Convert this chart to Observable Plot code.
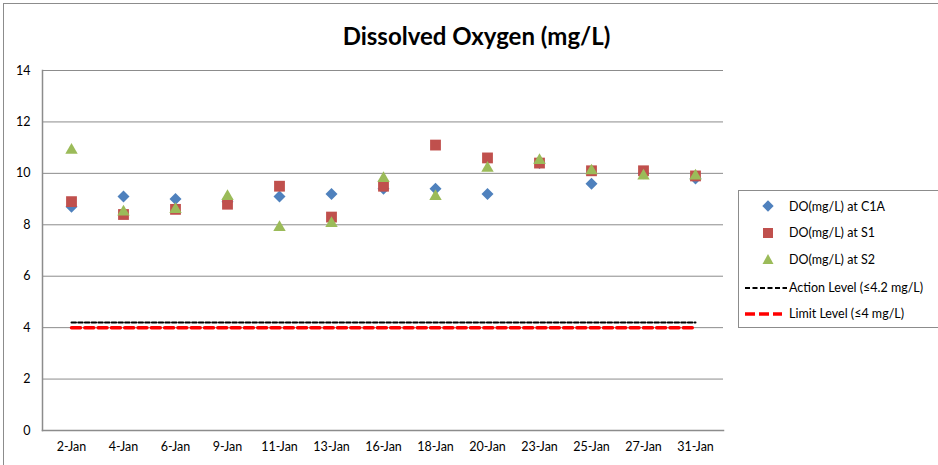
<!DOCTYPE html>
<html><head><meta charset="utf-8">
<script src="https://cdn.jsdelivr.net/npm/d3@7"></script>
<script src="https://cdn.jsdelivr.net/npm/@observablehq/plot@0.6"></script>
<style>
body{margin:0;background:#fff;}
#wrap{position:relative;width:938px;height:465px;overflow:hidden;font-family:Lato, "Open Sans", sans-serif;background:#fff;}
#border{position:absolute;left:3px;top:3px;width:960px;height:480px;border-left:1px solid #8c8c8c;border-top:1px solid #8c8c8c;}
#chart{position:absolute;left:0;top:0;}
#title{position:absolute;left:0;width:953px;top:21px;text-align:center;font-weight:bold;font-size:24px;color:#000;}
#legend{position:absolute;left:738px;top:190px;width:215px;height:138px;border:1px solid #8c8c8c;box-sizing:border-box;background:#fff;}
.item{position:absolute;left:0;height:20px;font-size:12.5px;color:#000;white-space:nowrap;}
.item svg{position:absolute;left:6px;top:0;}
.item span{position:absolute;left:50px;top:2px;}
</style></head>
<body>
<div id="wrap">
  <div id="chart"></div>
  <div id="border"></div>
  <div id="title">Dissolved Oxygen (mg/L)</div>
  <div id="legend"></div>
</div>
<script>
const dates = ["2-Jan","4-Jan","6-Jan","9-Jan","11-Jan","13-Jan","16-Jan","18-Jan","20-Jan","23-Jan","25-Jan","27-Jan","31-Jan"];
const doC1A = [8.7, 9.1, 9.0, 8.9, 9.1, 9.2, 9.4, 9.4, 9.2, 10.4, 9.6, 10.0, 9.8];
const doS1  = [8.9, 8.4, 8.6, 8.8, 9.5, 8.3, 9.5, 11.1, 10.6, 10.4, 10.1, 10.1, 9.9];
const doS2  = [10.9, 8.5, 8.6, 9.1, 7.9, 8.05, 9.8, 9.1, 10.2, 10.5, 10.1, 9.9, 9.9];
const actionLevel = 4.2;
const limitLevel = 4;
const yTicks = [0, 2, 4, 6, 8, 10, 12, 14];
const seriesNames = ["DO(mg/L) at C1A", "DO(mg/L) at S1", "DO(mg/L) at S2", "Action Level (\u22644.2 mg/L)", "Limit Level (\u22644 mg/L)"];

const colors = {c1a: "#4F81BD", s1: "#C0504D", s2: "#9BBB59"};
const rows = (vals) => dates.map((d, i) => ({date: d, value: vals[i]}));

const plot = Plot.plot({
  width: 938,
  height: 465,
  marginLeft: 42,
  marginRight: 215,
  marginTop: 70,
  marginBottom: 35,
  style: {fontFamily: "Lato, sans-serif", fontSize: "12px", background: "transparent", color: "#000"},
  x: {type: "band", domain: dates, padding: 0, label: null},
  y: {domain: [0, 14], label: null},
  marks: [
    Plot.gridY(yTicks, {stroke: "#8c8c8c", strokeOpacity: 1, strokeWidth: 1}),
    Plot.frame({anchor: "left", stroke: "#8c8c8c", strokeWidth: 1.5}),
    Plot.frame({anchor: "bottom", stroke: "#8c8c8c", strokeWidth: 1.5}),
    Plot.axisY(yTicks, {tickSize: 0, tickPadding: 12, fontSize: 12.5, label: null}),
    Plot.axisX({tickSize: 0, tickPadding: 12, fontSize: 12.5, label: null}),
    Plot.lineY(dates.map(d => ({date: d, value: actionLevel})), {x: "date", y: "value", stroke: "#000", strokeWidth: 2, strokeDasharray: "4.5,2.2"}),
    Plot.lineY(dates.map(d => ({date: d, value: limitLevel})), {x: "date", y: "value", stroke: "#FF0000", strokeWidth: 3.5, strokeDasharray: "9,4.3"}),
    Plot.dot(rows(doC1A), {x: "date", y: "value", symbol: "square", rotate: 45, r: 4.8, fill: colors.c1a, stroke: "none"}),
    Plot.dot(rows(doS1), {x: "date", y: "value", symbol: "square", r: 6.1, fill: colors.s1, stroke: "none"}),
    Plot.dot(rows(doS2), {x: "date", y: "value", symbol: "triangle", r: 4.6, fill: colors.s2, stroke: "none"})
  ]
});
document.getElementById("chart").appendChild(plot);

// Legend
const legend = document.getElementById("legend");
const legendTops = [6, 32, 59, 87, 113];
const markerSvgs = [
  `<svg width="40" height="20"><rect x="19" y="5" width="8" height="8" fill="${colors.c1a}" transform="rotate(45 23 9)"/></svg>`,
  `<svg width="40" height="20"><rect x="18" y="5" width="10" height="10" fill="${colors.s1}"/></svg>`,
  `<svg width="40" height="20"><polygon points="23,4 28.5,14 17.5,14" fill="${colors.s2}"/></svg>`,
  `<svg width="42" height="20"><line x1="0" y1="10" x2="42" y2="10" stroke="#000" stroke-width="2" stroke-dasharray="5,2.5"/></svg>`,
  `<svg width="40" height="20"><line x1="0" y1="10" x2="37" y2="10" stroke="#FF0000" stroke-width="3.5" stroke-dasharray="10,4"/></svg>`
];
seriesNames.forEach((name, i) => {
  const div = document.createElement("div");
  div.className = "item";
  div.style.top = legendTops[i] + "px";
  div.innerHTML = markerSvgs[i] + `<span>${name}</span>`;
  legend.appendChild(div);
});
</script>
</body></html>
